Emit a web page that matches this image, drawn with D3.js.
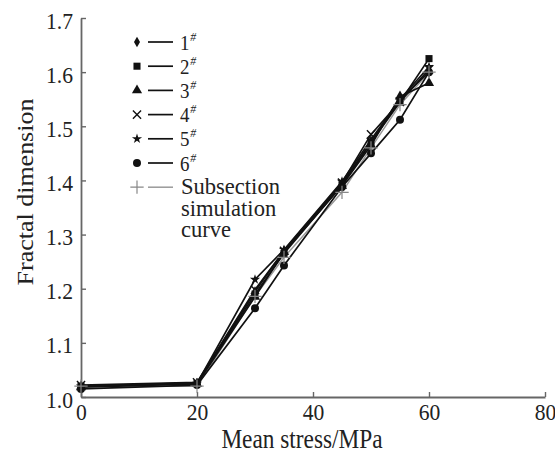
<!DOCTYPE html>
<html>
<head>
<meta charset="utf-8">
<script src="https://cdn.jsdelivr.net/npm/d3@7"></script>
<style>
body { margin: 0; background: #fff; }
text { font-family: "Liberation Serif", "DejaVu Serif", serif; }
</style>
</head>
<body>
<div id="chart"></div>
<script>
// stress levels (MPa)
var stress = [0, 20, 30, 35, 45, 50, 55, 60];

// fractal dimension per specimen
var s1 = [1.020, 1.026, 1.195, 1.270, 1.395, 1.470, 1.550, 1.600];
var s2 = [1.020, 1.025, 1.190, 1.265, 1.392, 1.470, 1.545, 1.625];
var s3 = [1.018, 1.024, 1.185, 1.268, 1.390, 1.465, 1.555, 1.580];
var s4 = [1.022, 1.027, 1.198, 1.270, 1.396, 1.485, 1.545, 1.605];
var s5 = [1.020, 1.025, 1.217, 1.272, 1.398, 1.475, 1.550, 1.610];
var s6 = [1.015, 1.022, 1.164, 1.243, 1.388, 1.450, 1.512, 1.600];
var sim = [1.020, 1.020, 1.186, 1.258, 1.378, 1.460, 1.540, 1.600];

var seriesNames = ["1", "2", "3", "4", "5", "6"];
var simLabel = ["Subsection", "simulation", "curve"];
var xTicks = [0, 20, 40, 60, 80];
var yTicks = [1.0, 1.1, 1.2, 1.3, 1.4, 1.5, 1.6, 1.7];

var W = 555, H = 453;
var pLeft = 81, pRight = 545, pTop = 18, pBottom = 397;
var sx = 0.88;   // glyphs in the reference are a bit narrow

var svg = d3.select("#chart").append("svg")
    .attr("width", W)
    .attr("height", H);

var x = d3.scaleLinear().domain([0, 80]).range([pLeft, pRight]);
var y = d3.scaleLinear().domain([1.0, 1.7]).range([pBottom, pTop]);

//Axes
var xAxis = svg.append("g")
    .attr("transform", "translate(0," + pBottom + ")")
    .call(d3.axisBottom(x).tickValues(xTicks).tickSizeInner(-5).tickSizeOuter(0).tickPadding(6)
        .tickFormat(d3.format("d")));
var yAxis = svg.append("g")
    .attr("transform", "translate(" + pLeft + ",0)")
    .call(d3.axisLeft(y).tickValues(yTicks).tickSizeInner(-5).tickSizeOuter(0).tickPadding(8)
        .tickFormat(d3.format(".1f")));

[xAxis, yAxis].forEach(function (a) {
    a.select(".domain").attr("stroke", "#666").attr("stroke-width", 1.8);
    a.selectAll(".tick line").attr("stroke", "#666").attr("stroke-width", 1.4);
    a.selectAll(".tick text").attr("fill", "#222").style("font-size", "24px")
        .style("font-family", "Liberation Serif, serif")
        .attr("transform", "scale(0.9,1)");
});
yAxis.selectAll(".tick text").attr("x", -8 / 0.9).attr("dy", "0.42em");

//Axis titles
svg.append("text")
    .attr("transform", "translate(302,448) scale(" + sx + ",1)")
    .attr("text-anchor", "middle")
    .attr("font-size", "26.5px")
    .attr("fill", "#222")
    .text("Mean stress/MPa");

svg.append("text")
    .attr("transform", "translate(33,192) rotate(-90) scale(1," + sx + ")")
    .attr("text-anchor", "middle")
    .attr("font-size", "26px")
    .attr("fill", "#222")
    .text("Fractal dimension");

//Symbols
var symbols = [
    { type: d3.symbolDiamond, size: 32, fill: true },
    { type: d3.symbolSquare, size: 50, fill: true },
    { type: d3.symbolTriangle, size: 45, fill: true },
    { type: d3.symbolTimes, size: 45, fill: false },
    { type: d3.symbolStar, size: 32, fill: true },
    { type: d3.symbolCircle, size: 50, fill: true }
];

var allSeries = [s1, s2, s3, s4, s5, s6];

var line = d3.line()
    .x(function (d, i) { return x(stress[i]); })
    .y(function (d) { return y(d); });

//Simulation curve first (underneath)
svg.append("path")
    .attr("d", line(sim))
    .attr("fill", "none")
    .attr("stroke", "#999")
    .attr("stroke-width", 1.5);

allSeries.forEach(function (s, k) {
    svg.append("path")
        .attr("d", line(s))
        .attr("fill", "none")
        .attr("stroke", "#111")
        .attr("stroke-width", 1.7);
});

allSeries.forEach(function (s, k) {
    var sym = symbols[k];
    svg.append("g").selectAll("path")
        .data(s)
        .enter().append("path")
        .attr("transform", function (d, i) { return "translate(" + x(stress[i]) + "," + y(d) + ")"; })
        .attr("d", d3.symbol().type(sym.type).size(sym.size))
        .attr("fill", sym.fill ? "#111" : "none")
        .attr("stroke", "#111")
        .attr("stroke-width", sym.fill ? 0 : 1.4);
});

svg.append("g").selectAll("path")
    .data(sim)
    .enter().append("path")
    .attr("transform", function (d, i) { return "translate(" + x(stress[i]) + "," + y(d) + ")"; })
    .attr("d", d3.symbol().type(d3.symbolPlus).size(60))
    .attr("fill", "none")
    .attr("stroke", "#888")
    .attr("stroke-width", 1.2);

//Legend
var lgX = 137, lgY = 42, lgStep = 24.2;
var legend = svg.append("g");

seriesNames.forEach(function (name, k) {
    var yy = lgY + k * lgStep;
    var sym = symbols[k];
    legend.append("path")
        .attr("transform", "translate(" + lgX + "," + yy + ")")
        .attr("d", d3.symbol().type(sym.type).size(sym.size))
        .attr("fill", sym.fill ? "#111" : "none")
        .attr("stroke", "#111")
        .attr("stroke-width", sym.fill ? 0 : 1.4);
    legend.append("line")
        .attr("x1", 148).attr("x2", 173)
        .attr("y1", yy).attr("y2", yy)
        .attr("stroke", "#111").attr("stroke-width", 1.7);
    var t = legend.append("text")
        .attr("transform", "translate(180," + (yy + 7.5) + ") scale(0.9,1)")
        .attr("font-size", "21px")
        .attr("fill", "#222");
    t.append("tspan").text(name);
    t.append("tspan").attr("dx", 1).attr("dy", -9).attr("font-size", "13px").attr("font-style", "italic").text("#");
});

var simY = lgY + 6 * lgStep;
legend.append("path")
    .attr("transform", "translate(" + lgX + "," + simY + ")")
    .attr("d", d3.symbol().type(d3.symbolPlus).size(60))
    .attr("fill", "none")
    .attr("stroke", "#888")
    .attr("stroke-width", 1.2);
legend.append("line")
    .attr("x1", 148).attr("x2", 173)
    .attr("y1", simY).attr("y2", simY)
    .attr("stroke", "#999").attr("stroke-width", 1.5);
simLabel.forEach(function (w, i) {
    legend.append("text")
        .attr("transform", "translate(181," + (simY + 7 + i * 21.5) + ") scale(0.96,1)")
        .attr("font-size", "23.5px")
        .attr("fill", "#222")
        .text(w);
});
</script>
</body>
</html>
